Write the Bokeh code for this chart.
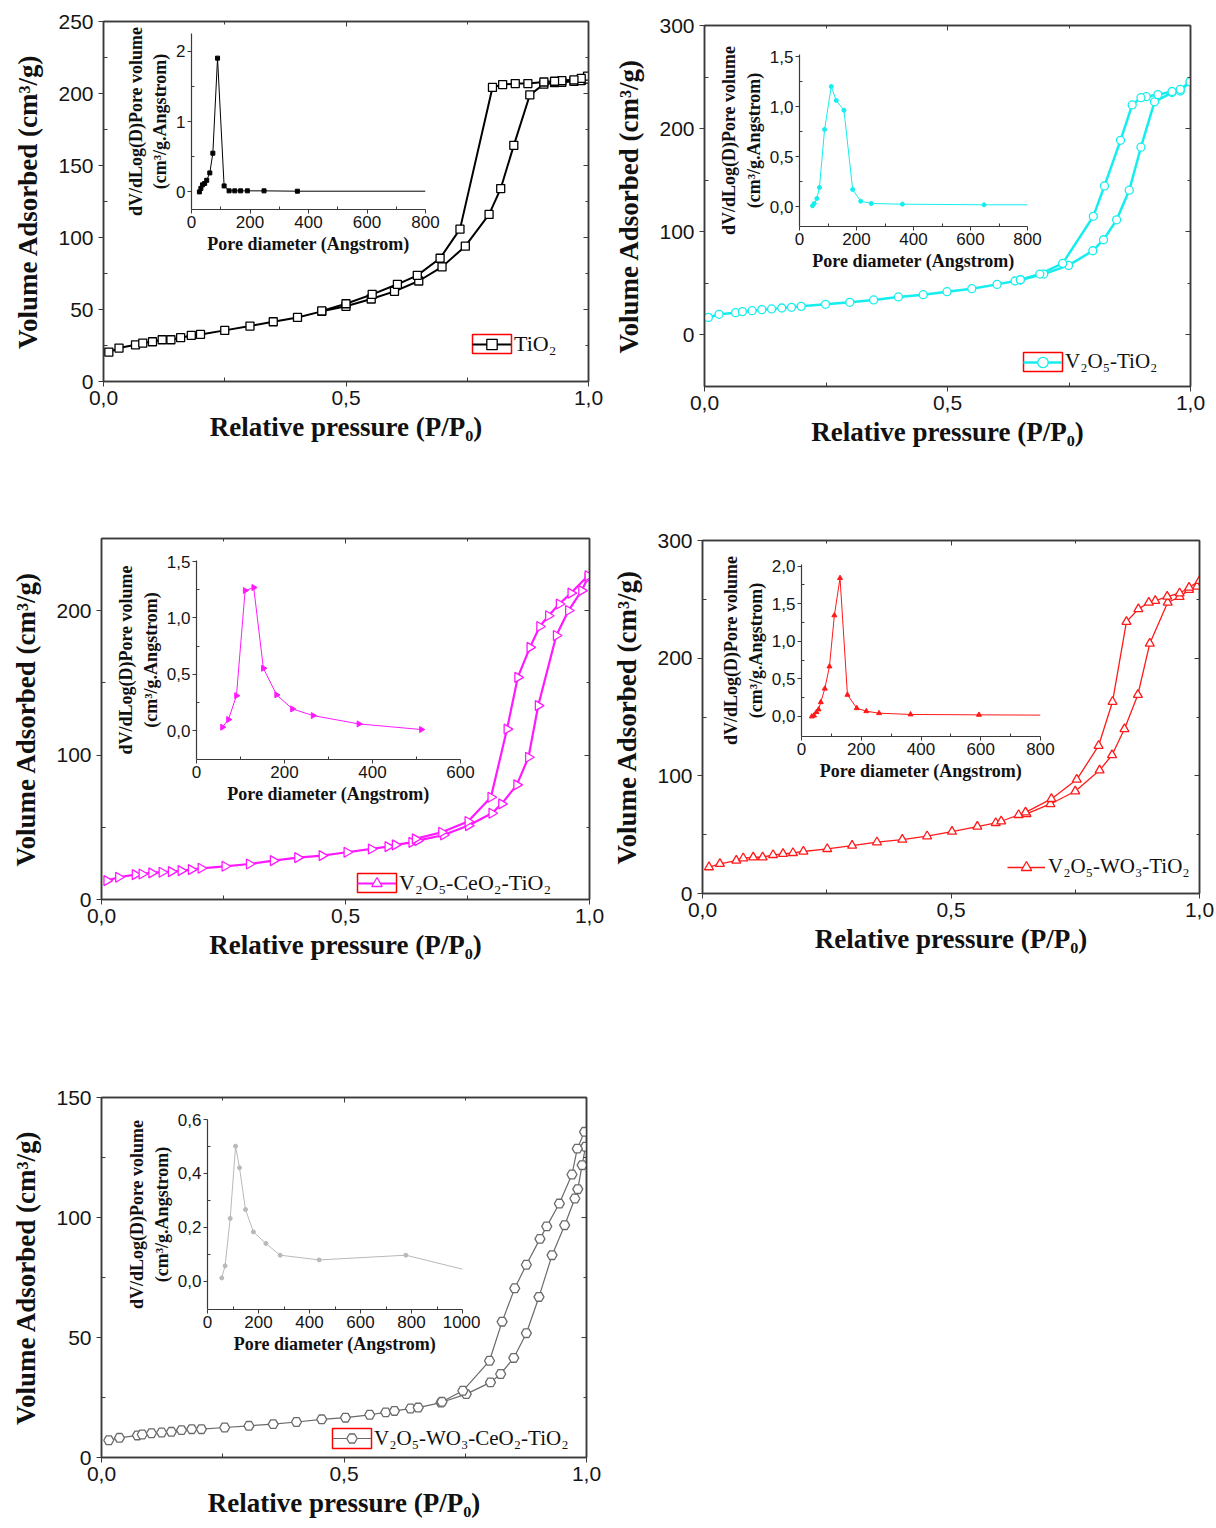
from bokeh.plotting import figure
from bokeh.models import (LinearAxis, FixedTicker, CustomJSTickFormatter, Range1d,
                          Legend, LegendItem, BoxAnnotation)
from bokeh.layouts import row
from bokeh.embed import file_html
from bokeh.resources import INLINE

# ---------------- data ----------------
# Panel 1 : TiO2
tio2_ads_p = [0.011, 0.032, 0.066, 0.081, 0.101, 0.121, 0.139, 0.159, 0.181, 0.200, 0.250, 0.302,
              0.350, 0.400, 0.450, 0.500, 0.552, 0.600, 0.650, 0.698, 0.746, 0.795, 0.819, 0.846,
              0.879, 0.908, 0.930, 0.945, 0.970, 0.985, 0.998]
tio2_ads_v = [20.4, 23.2, 25.5, 26.7, 27.6, 29.0, 29.0, 30.4, 32.0, 32.7, 35.5, 38.5, 41.5, 44.5,
              48.7, 52.2, 57.3, 62.6, 69.8, 79.6, 94.0, 116.0, 134.0, 164.0, 199.0, 206.5, 207.5,
              207.8, 208.5, 209.0, 210.0]
tio2_des_p = [0.998, 0.985, 0.970, 0.945, 0.930, 0.908, 0.875, 0.849, 0.823, 0.802, 0.735, 0.694,
              0.647, 0.606, 0.554, 0.500, 0.450]
tio2_des_v = [212.0, 210.5, 209.5, 209.0, 208.5, 208.0, 206.9, 206.9, 206.2, 204.2, 105.8, 85.6,
              73.7, 67.5, 60.5, 54.0, 49.0]
tio2_psd_d = [27, 32, 37.5, 45, 52, 62.6, 73, 89, 111.5, 128.5, 148, 168, 191, 248, 362, 800]
tio2_psd_v = [0.0, 0.05, 0.10, 0.12, 0.165, 0.27, 0.55, 1.90, 0.085, 0.015, 0.015, 0.015, 0.015,
              0.015, 0.01, 0.01]

# Panel 2 : V2O5-TiO2
vt_ads_p = [0.008, 0.030, 0.064, 0.078, 0.098, 0.118, 0.138, 0.159, 0.179, 0.199, 0.249, 0.299,
            0.348, 0.399, 0.450, 0.499, 0.550, 0.602, 0.639, 0.650, 0.698, 0.749, 0.799, 0.821,
            0.848, 0.874, 0.898, 0.926, 0.962, 0.979, 0.999]
vt_ads_v = [17.0, 20.0, 21.6, 22.6, 23.5, 24.5, 25.2, 26.1, 26.8, 27.7, 29.7, 31.6, 33.9, 36.8,
            39.0, 41.9, 44.8, 49.0, 52.3, 53.2, 59.0, 67.4, 81.6, 92.3, 111.6, 140.3, 182.0,
            226.0, 235.0, 236.5, 245.5]
vt_des_p = [0.999, 0.979, 0.962, 0.933, 0.909, 0.898, 0.880, 0.856, 0.823, 0.800, 0.737, 0.690,
            0.650]
vt_des_v = [245.5, 238.0, 236.0, 233.0, 231.0, 230.0, 223.0, 188.7, 144.5, 115.0, 69.4, 59.0,
            53.5]
vt_psd_d = [45.7, 51.6, 61, 70, 88, 111.4, 129, 156, 186.5, 214.7, 252, 361, 647.5, 800]
vt_psd_v = [0.007, 0.03, 0.08, 0.19, 0.77, 1.20, 1.06, 0.963, 0.17, 0.053, 0.03, 0.023, 0.017,
            0.017]

# Panel 3 : V2O5-CeO2-TiO2
vct_ads_p = [0.011, 0.035, 0.069, 0.083, 0.103, 0.124, 0.143, 0.163, 0.184, 0.204, 0.253, 0.303,
             0.352, 0.402, 0.452, 0.503, 0.553, 0.587, 0.602, 0.636, 0.648, 0.701, 0.752, 0.800,
             0.820, 0.851, 0.875, 0.895, 0.932, 0.957, 0.984, 0.997]
vct_ads_v = [13.1, 15.4, 17.2, 17.7, 18.4, 18.9, 19.3, 20.0, 20.7, 21.6, 23.0, 24.6, 26.9, 29.0,
             30.4, 32.7, 35.0, 36.6, 37.8, 39.6, 40.8, 44.7, 51.2, 59.7, 66.2, 79.4, 98.5, 134.3,
             182.8, 200.1, 213.9, 223.0]
vct_des_p = [0.997, 0.962, 0.938, 0.916, 0.898, 0.878, 0.853, 0.831, 0.798, 0.751, 0.697, 0.643]
vct_des_v = [224.2, 212.2, 204.6, 196.5, 189.1, 174.6, 153.8, 118.0, 70.8, 54.0, 46.6, 42.0]
vct_psd_d = [59, 72.6, 90.8, 110.5, 130, 152, 182, 218, 265, 369, 511]
vct_psd_v = [0.03, 0.098, 0.31, 1.243, 1.27, 0.553, 0.317, 0.192, 0.133, 0.059, 0.009]

# Panel 4 : V2O5-WO3-TiO2
vwt_ads_p = [0.013, 0.035, 0.068, 0.082, 0.102, 0.121, 0.142, 0.162, 0.182, 0.203, 0.251, 0.301,
             0.351, 0.402, 0.452, 0.502, 0.553, 0.590, 0.601, 0.636, 0.652, 0.700, 0.750, 0.799,
             0.824, 0.849, 0.876, 0.900, 0.936, 0.960, 0.979, 0.995]
vwt_ads_v = [22.4, 25.2, 28.0, 30.0, 30.8, 30.8, 32.8, 33.7, 34.5, 35.7, 37.9, 40.7, 43.6, 45.8,
             48.7, 52.6, 56.9, 60.0, 61.4, 66.8, 67.6, 76.1, 86.9, 104.7, 117.7, 139.8, 168.9,
             212.5, 247.3, 252.1, 258.1, 260.9]
vwt_des_p = [1.0, 0.979, 0.960, 0.935, 0.911, 0.898, 0.877, 0.853, 0.825, 0.797, 0.753, 0.702,
             0.650]
vwt_des_v = [265.7, 260.0, 255.2, 252.4, 248.7, 247.3, 241.7, 230.9, 163.0, 125.6, 96.8, 80.4,
             69.0]
vwt_psd_d = [34.5, 42, 50, 57, 64.6, 78, 93.6, 110, 129, 153.8, 185, 217, 259.6, 365, 594, 800]
vwt_psd_v = [0.0, 0.013, 0.058, 0.093, 0.19, 0.37, 0.665, 1.344, 1.84, 0.288, 0.11, 0.07, 0.044,
             0.027, 0.022, 0.018]

# Panel 5 : V2O5-WO3-CeO2-TiO2
vwct_ads_p = [0.015, 0.037, 0.074, 0.084, 0.103, 0.124, 0.144, 0.165, 0.186, 0.206, 0.254, 0.304,
              0.354, 0.402, 0.454, 0.503, 0.553, 0.586, 0.604, 0.637, 0.653, 0.700, 0.752, 0.802,
              0.823, 0.850, 0.876, 0.902, 0.929, 0.955, 0.976, 0.982, 0.991, 0.998]
vwct_ads_v = [7.2, 8.2, 9.2, 9.6, 10.1, 10.4, 10.7, 11.4, 11.8, 11.8, 12.5, 13.2, 13.9, 14.8,
              15.9, 16.6, 17.8, 18.8, 19.4, 20.4, 20.8, 22.9, 26.4, 31.3, 34.8, 41.5, 51.8, 66.9,
              84.3, 96.8, 107.9, 111.8, 121.8, 129.5]
vwct_des_p = [0.996, 0.981, 0.970, 0.944, 0.918, 0.904, 0.876, 0.852, 0.826, 0.800, 0.745, 0.702]
vwct_des_v = [135.7, 128.7, 117.9, 105.8, 96.3, 91.1, 80.3, 70.5, 56.6, 40.3, 27.8, 23.2]
vwct_psd_d = [56, 69, 89, 110, 125.5, 149, 180, 229, 285, 438, 778, 1000]
vwct_psd_v = [0.012, 0.057, 0.233, 0.501, 0.421, 0.266, 0.183, 0.14, 0.0965, 0.079, 0.0965,
              0.0446]

names = ["TiO₂", "V₂O₅-TiO₂", "V₂O₅-CeO₂-TiO₂", "V₂O₅-WO₃-TiO₂", "V₂O₅-WO₃-CeO₂-TiO₂"]

# ---------------- styling ----------------
SERIF = "Liberation Serif"
SANS = "Liberation Sans"
AX = "#3a3a3a"
TXT = "#151515"
X_LABEL = "Relative pressure (P/P₀)"
Y_LABEL = "Volume Adsorbed (cm³/g)"
IX_LABEL = "Pore diameter (Angstrom)"
IY_LABEL1 = "dV/dLog(D)Pore volume"
IY_LABEL2 = "(cm³/g.Angstrom)"
PAGE_W = 1216
TP = 21      # common top panel of every figure (the row aligns them)
BP = 71      # common bottom panel of every figure
IL, IR = 84, 18   # inset left / right panels


def comma_fmt(dec):
    return CustomJSTickFormatter(code="return tick.toFixed(%d).replace('.', ',');" % dec)


def main_fig(frame, lb, rb, y_range, y_major, y_minor):
    L, T, R, B = frame
    p = figure(frame_width=R - L, frame_height=B - T, x_range=Range1d(0, 1),
               y_range=Range1d(*y_range), title=None,
               output_backend="svg", toolbar_location=None,
               min_border_left=lb, min_border_right=rb,
               min_border_top=TP, min_border_bottom=BP,
               x_axis_label=X_LABEL, y_axis_label=Y_LABEL)
    p.background_fill_color = None
    p.border_fill_color = None
    p.outline_line_color = AX
    p.outline_line_width = 1.5
    p.xgrid.visible = False
    p.ygrid.visible = False
    xt = [0, 0.5, 1.0]
    xm = [0.25, 0.75]
    for ax, ticks, minor in ((p.xaxis[0], xt, xm), (p.yaxis[0], y_major, y_minor)):
        ax.ticker = FixedTicker(ticks=ticks, minor_ticks=minor)
        ax.axis_line_color = AX
        ax.axis_line_width = 1.5
        ax.major_tick_line_color = AX
        ax.minor_tick_line_color = AX
        ax.major_tick_out = 5
        ax.major_tick_in = 0
        ax.minor_tick_out = 0
        ax.minor_tick_in = 4
        ax.major_label_text_font = SANS
        ax.major_label_text_font_size = "21px"
        ax.major_label_text_color = TXT
        ax.axis_label_text_font = SERIF
        ax.axis_label_text_font_style = "bold"
        ax.axis_label_text_font_size = "27px"
        ax.axis_label_text_color = "#111111"
    p.xaxis.formatter = comma_fmt(1)
    p.xaxis.major_label_standoff = 4
    p.xaxis.axis_label_standoff = 4
    p.yaxis.major_label_standoff = 5
    p.yaxis.axis_label_standoff = 12
    for side, ticks, minor in (("above", xt, xm), ("right", y_major, y_minor)):
        a = LinearAxis(ticker=FixedTicker(ticks=ticks, minor_ticks=minor),
                       major_label_text_font_size="0px", major_label_text_color=None,
                       major_label_standoff=0,
                       axis_line_color=AX, axis_line_width=1.5,
                       major_tick_in=5, major_tick_out=0, minor_tick_in=3, minor_tick_out=0,
                       major_tick_line_color=AX, minor_tick_line_color=AX)
        p.add_layout(a, side)
    return p


def draw_iso(p, ads_p, ads_v, des_p, des_v, color, marker, size, lw, angle=0.0):
    la = p.line(ads_p, ads_v, line_color=color, line_width=lw)
    p.line(des_p, des_v, line_color=color, line_width=lw)
    sa = p.scatter(ads_p, ads_v, marker=marker, size=size, angle=angle, line_color=color,
                   fill_color="white", line_width=1.3)
    p.scatter(des_p, des_v, marker=marker, size=size, angle=angle, line_color=color,
              fill_color="white", line_width=1.3)
    return la, sa


def add_legend(p, frame, label, renderers, glyph_box, font_size, boxed=True):
    L, T, R, B = frame
    gl, gt, gr, gb = glyph_box
    gh = 26
    cy = B - (gt + gb) / 2.0
    leg = Legend(items=[LegendItem(label=label, renderers=list(renderers))],
                 location=(gl - L, cy - gh / 2.0), padding=0, margin=0, spacing=0,
                 glyph_width=int(gr - gl), glyph_height=gh, label_height=gh,
                 label_standoff=3, border_line_color=None, background_fill_alpha=0,
                 label_text_font=SERIF, label_text_font_size=font_size,
                 label_text_color="#111111")
    p.add_layout(leg)
    if boxed:
        p.add_layout(BoxAnnotation(left=gl - L, right=gr - L, bottom=B - gb, top=B - gt,
                                   left_units="screen", right_units="screen",
                                   bottom_units="screen", top_units="screen",
                                   fill_color=None, fill_alpha=0,
                                   line_color="#ff0000", line_alpha=1.0, line_width=1.5))


def inset_fig(frame, x_range, y_range, x_major, x_minor, y_major, y_minor, ydec):
    L, T, R, B = frame
    p = figure(frame_width=R - L, frame_height=B - T, title=None,
               x_range=Range1d(*x_range), y_range=Range1d(*y_range),
               output_backend="svg", toolbar_location=None,
               min_border_left=IL, min_border_right=IR, min_border_top=TP, min_border_bottom=BP,
               x_axis_label=IX_LABEL, y_axis_label=IY_LABEL2)
    p.background_fill_color = None
    p.border_fill_color = None
    p.outline_line_color = None
    p.xgrid.visible = False
    p.ygrid.visible = False
    for ax, ticks, minor in ((p.xaxis[0], x_major, x_minor), (p.yaxis[0], y_major, y_minor)):
        ax.ticker = FixedTicker(ticks=ticks, minor_ticks=minor)
        ax.axis_line_color = AX
        ax.axis_line_width = 1.2
        ax.major_tick_line_color = AX
        ax.minor_tick_line_color = AX
        ax.major_tick_out = 4
        ax.major_tick_in = 0
        ax.minor_tick_out = 0
        ax.minor_tick_in = 3
        ax.major_label_text_font = SANS
        ax.major_label_text_font_size = "17px"
        ax.major_label_text_color = TXT
        ax.axis_label_text_font = SERIF
        ax.axis_label_text_font_style = "bold"
        ax.axis_label_text_font_size = "18px"
        ax.axis_label_text_color = "#111111"
        ax.major_label_standoff = 2
        ax.axis_label_standoff = 3
    p.yaxis.formatter = comma_fmt(ydec)
    outer = LinearAxis(ticker=FixedTicker(ticks=[]), axis_label=IY_LABEL1,
                       axis_line_color=None, major_tick_out=0, major_tick_in=0,
                       minor_tick_out=0, minor_tick_in=0, major_label_standoff=0,
                       major_label_text_font_size="0px", major_label_text_color=None,
                       axis_label_standoff=2, axis_label_text_font=SERIF,
                       axis_label_text_font_style="bold", axis_label_text_font_size="18px",
                       axis_label_text_color="#111111")
    p.add_layout(outer, "left")
    return p


def draw_psd(p, d, v, color, marker, size, angle=0.0, drop_last=False):
    p.line(d, v, line_color=color, line_width=1.0)
    n = len(d) - 1 if drop_last else len(d)
    p.scatter(d[:n], v[:n], marker=marker, size=size, angle=angle, line_color=color,
              fill_color=color)


CYAN = "#14eeee"
MAG = "#ff19ff"
RED = "#ff1a1a"
GREY = "#6a6a6a"
LGREY = "#b9b9b9"
RIGHT = -1.5707963

# ---------------- layout (page pixel coordinates of the plot frames) ----------------
F1 = (103, 21, 588, 381)
F2 = (704, 25, 1190, 386)
F3 = (101, 538, 589, 899)
F4 = (702, 540, 1199, 893)
F5 = (101, 1097, 586, 1457)
I1 = (191, 33, 425, 209)
I2 = (799, 54, 1027, 226)
I3 = (196, 560, 460, 759)
I4 = (801, 564, 1040, 736)
I5 = (207, 1119, 462, 1309)
LB = {1: 103, 2: 100, 3: 101, 4: 100, 5: 101}
RB = {1: 26, 2: 26, 3: 26, 4: 17, 5: 26}

# Panel 1
p1 = main_fig(F1, LB[1], RB[1], (0, 250), [0, 50, 100, 150, 200, 250], [25, 75, 125, 175, 225])
r = draw_iso(p1, tio2_ads_p, tio2_ads_v, tio2_des_p, tio2_des_v, "#000000", "square", 8, 2.0)
add_legend(p1, F1, names[0], r, (472, 334, 511, 353), "22px")
q1 = inset_fig(I1, (0, 800), (-0.25, 2.25), [0, 200, 400, 600, 800], [100, 300, 500, 700],
               [0, 1, 2], [0.5, 1.5], 0)
draw_psd(q1, tio2_psd_d, tio2_psd_v, "#000000", "square", 4, drop_last=True)

# Panel 2
p2 = main_fig(F2, LB[2], RB[2], (-50, 300), [0, 100, 200, 300], [-50, 50, 150, 250])
r = draw_iso(p2, vt_ads_p, vt_ads_v, vt_des_p, vt_des_v, CYAN, "circle", 8, 2.5)
add_legend(p2, F2, names[1], r, (1023, 352, 1062, 371), "21px")
q2 = inset_fig(I2, (0, 800), (-0.2, 1.52), [0, 200, 400, 600, 800], [100, 300, 500, 700],
               [0, 0.5, 1.0, 1.5], [0.25, 0.75, 1.25], 1)
draw_psd(q2, vt_psd_d, vt_psd_v, CYAN, "circle", 4, drop_last=True)

# Panel 3
p3 = main_fig(F3, LB[3], RB[3], (0, 250), [0, 100, 200], [50, 150])
r = draw_iso(p3, vct_ads_p, vct_ads_v, vct_des_p, vct_des_v, MAG, "triangle", 10, 2.2, RIGHT)
add_legend(p3, F3, names[2], r, (357, 873, 396, 892), "22px")
q3 = inset_fig(I3, (0, 600), (-0.257, 1.51), [0, 200, 400, 600], [100, 300, 500],
               [0, 0.5, 1.0, 1.5], [0.25, 0.75, 1.25], 1)
draw_psd(q3, vct_psd_d, vct_psd_v, MAG, "triangle", 6, RIGHT)

# Panel 4
p4 = main_fig(F4, LB[4], RB[4], (0, 300), [0, 100, 200, 300], [50, 150, 250])
r = draw_iso(p4, vwt_ads_p, vwt_ads_v, vwt_des_p, vwt_des_v, RED, "triangle", 9, 1.3)
add_legend(p4, F4, names[3], r, (1007, 857, 1045, 876), "21px", boxed=False)
q4 = inset_fig(I4, (0, 800), (-0.266, 2.02), [0, 200, 400, 600, 800], [100, 300, 500, 700],
               [0, 0.5, 1.0, 1.5, 2.0], [0.25, 0.75, 1.25, 1.75], 1)
draw_psd(q4, vwt_psd_d, vwt_psd_v, RED, "triangle", 5, drop_last=True)

# Panel 5
p5 = main_fig(F5, LB[5], RB[5], (0, 150), [0, 50, 100, 150], [25, 75, 125])
r = draw_iso(p5, vwct_ads_p, vwct_ads_v, vwct_des_p, vwct_des_v, GREY, "hex", 10, 1.2)
add_legend(p5, F5, names[4], r, (332, 1428, 371, 1448), "21px")
q5 = inset_fig(I5, (0, 1000), (-0.105, 0.6), [0, 200, 400, 600, 800, 1000],
               [100, 300, 500, 700, 900], [0, 0.2, 0.4, 0.6], [0.1, 0.3, 0.5], 1)
draw_psd(q5, vwct_psd_d, vwct_psd_v, LGREY, "circle", 4, drop_last=True)

# Every figure sits in one row; each is moved to its place with its margins.
items = [(p1, F1, LB[1], RB[1]), (q1, I1, IL, IR),
         (p2, F2, LB[2], RB[2]), (q2, I2, IL, IR),
         (p3, F3, LB[3], RB[3]), (q3, I3, IL, IR),
         (p4, F4, LB[4], RB[4]), (q4, I4, IL, IR),
         (p5, F5, LB[5], RB[5]), (q5, I5, IL, IR)]
cur = 0
for fig, (L, T, R, B), lb, rb in items:
    x0 = L - lb
    fig.margin = (T - TP, 0, 0, x0 - cur)
    cur = x0 + lb + (R - L) + rb
last = items[-1][0]
last.margin = (last.margin[0], PAGE_W - cur, 0, last.margin[3])
page = row([it[0] for it in items], spacing=0)

open("out.html", "w").write(file_html(page, INLINE))
